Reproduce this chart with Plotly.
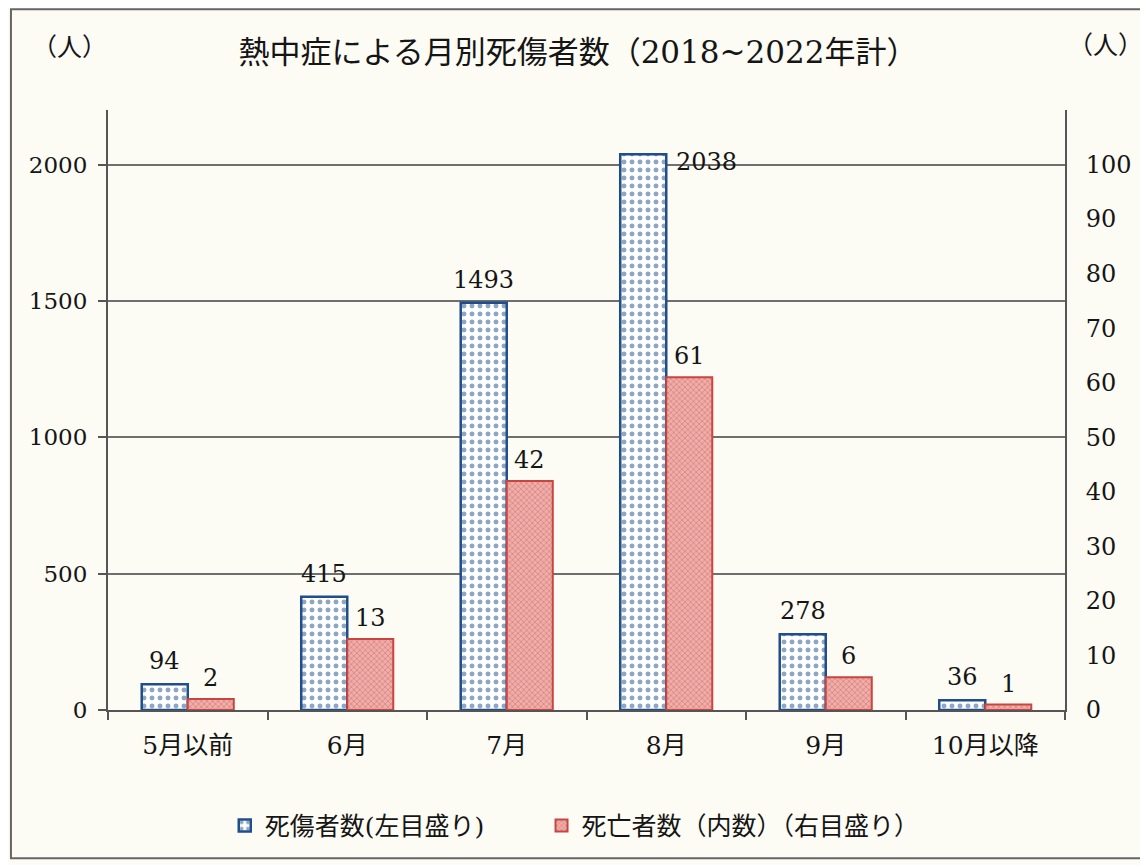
import plotly.graph_objects as go

categories = ["5月以前", "6月", "7月", "8月", "9月", "10月以降"]
casualties = [94, 415, 1493, 2038, 278, 36]
deaths = [2, 13, 42, 61, 6, 1]
left_ticks = [0, 500, 1000, 1500, 2000]
right_ticks = list(range(0, 101, 10))

NUM_FONT = "DejaVu Serif, Noto Sans CJK JP, serif"
BG = "#fcfbf4"
BLUE = "#1f4e8a"
RED = "#c9453f"
TXT = "#151515"

fig = go.Figure()
fig.add_trace(go.Bar(
    x=categories, y=casualties, name="死傷者数(左目盛り)",
    yaxis="y", offsetgroup="1", legend="legend",
    marker=dict(color="white", line=dict(color=BLUE, width=2.5),
                pattern=dict(shape=".", fgcolor=BLUE, bgcolor="white", size=8, solidity=0.3)),
))
fig.add_trace(go.Bar(
    x=categories, y=deaths, name="死亡者数（内数）（右目盛り）",
    yaxis="y2", offsetgroup="2", legend="legend2",
    marker=dict(color="#e79a96", line=dict(color=RED, width=2),
                pattern=dict(shape="x", fgcolor="#cf615c", bgcolor="#eeaeaa", size=4, solidity=0.4)),
))

LBL = dict(family=NUM_FONT, size=24, color=TXT)
annotations = []
for c, v in zip(categories, casualties):
    if v == max(casualties):
        annotations.append(dict(x=c, y=v, xref="x", yref="y", text=str(v), showarrow=False,
                                xshift=40, yshift=-8, yanchor="middle", xanchor="center", font=LBL))
    else:
        annotations.append(dict(x=c, y=v, xref="x", yref="y", text=str(v), showarrow=False,
                                xshift=-23, yshift=23, yanchor="middle", xanchor="center", font=LBL))
for c, v in zip(categories, deaths):
    annotations.append(dict(x=c, y=v, xref="x", yref="y2", text=str(v), showarrow=False,
                            xshift=23, yshift=21, yanchor="middle", xanchor="center", font=LBL))

annotations.append(dict(x=-0.040, y=1.105, xref="paper", yref="paper", text="（人）", showarrow=False,
                        xanchor="center", yanchor="middle", font=dict(family=NUM_FONT, size=25, color=TXT)))
annotations.append(dict(x=1.042, y=1.108, xref="paper", yref="paper", text="（人）", showarrow=False,
                        xanchor="center", yanchor="middle", font=dict(family=NUM_FONT, size=25, color=TXT)))

LEG = dict(orientation="h", y=-0.193, yanchor="middle", xanchor="left",
           font=dict(size=25), bgcolor="rgba(0,0,0,0)")

# the page body has an 8px margin, so the figure is 8px smaller and margins shifted accordingly
fig.update_layout(
    width=1140, height=857,
    margin=dict(l=100, r=83, t=102, b=155),
    paper_bgcolor=BG, plot_bgcolor=BG,
    barmode="group", bargap=0.423, bargroupgap=0,
    title=dict(text="熱中症による月別死傷者数（2018~2022年計）", x=0.50, xanchor="center",
               y=0.9487, yanchor="middle", font=dict(family=NUM_FONT, size=31, color=TXT)),
    font=dict(family=NUM_FONT, size=22, color=TXT),
    xaxis=dict(type="category", range=[-0.5, 5.5], showline=True, linecolor="#555", linewidth=2,
               ticks="outside", tickson="boundaries", ticklen=8, tickcolor="#555", tickwidth=2,
               showgrid=False, ticklabelstandoff=12, tickfont=dict(size=25)),
    yaxis=dict(range=[0, 2200], tickvals=left_ticks, showgrid=True, gridcolor="#6f6f6f", gridwidth=2,
               showline=True, linecolor="#555", linewidth=2, ticks="outside", ticklen=8,
               tickcolor="#555", tickwidth=2, zeroline=False, ticklabelstandoff=6,
               tickfont=dict(size=23)),
    yaxis2=dict(range=[0, 110], tickvals=right_ticks, overlaying="y", side="right",
                showgrid=False, showline=True, linecolor="#555", linewidth=2, ticks="",
                zeroline=False, ticklabelstandoff=14, tickfont=dict(size=24)),
    legend=dict(LEG, x=0.122),
    legend2=dict(LEG, x=0.453),
    showlegend=True,
    annotations=annotations,
    shapes=[dict(type="rect", xref="paper", yref="paper", x0=-0.1014, x1=1.09, y0=-0.247, y1=1.168,
                 line=dict(color="#666", width=2), layer="below")],
)

fig.write_html("out.html")
